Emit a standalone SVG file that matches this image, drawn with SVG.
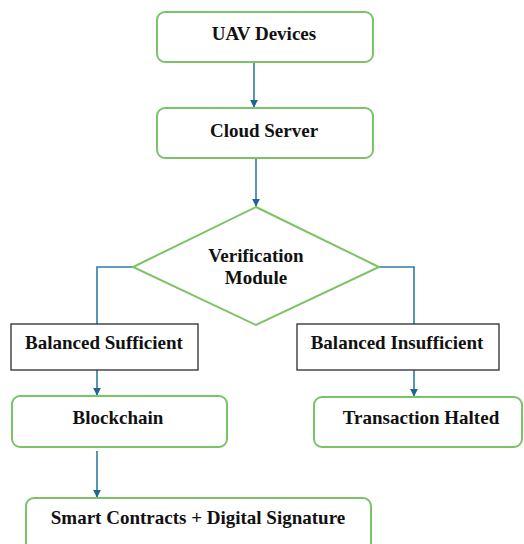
<svg xmlns="http://www.w3.org/2000/svg" width="524" height="544" viewBox="0 0 524 544">
  <style>
    .proc { fill: #ffffff; stroke: #7cc266; stroke-width: 2; }
    .cond { fill: #ffffff; stroke: #2b2b2b; stroke-width: 1.3; }
    .lbl { font-family: 'Liberation Serif', 'Times New Roman', serif; font-weight: 700; font-size: 19px; fill: #111; text-anchor: middle; }
    .wire { fill: none; stroke: #2e7ca6; stroke-width: 1.6; }
  </style>
  <defs>
    <marker id="arrow" viewBox="0 0 10 10" refX="9" refY="5" markerWidth="5" markerHeight="5" orient="auto">
      <path d="M0,0 L10,5 L0,10 Z" fill="#1f6690"/>
    </marker>
  </defs>
  <rect width="524" height="544" fill="#ffffff"/>

  <!-- flow connectors -->
  <g id="connectors">
    <line class="wire" x1="254" y1="62" x2="254" y2="107" marker-end="url(#arrow)"/>
    <line class="wire" x1="256" y1="158" x2="256" y2="206" marker-end="url(#arrow)"/>
    <polyline class="wire" points="133,267 97,267 97,324"/>
    <polyline class="wire" points="379,267 414,267 414,324"/>
    <line class="wire" x1="97" y1="370" x2="97" y2="395" marker-end="url(#arrow)"/>
    <line class="wire" x1="414" y1="370" x2="414" y2="396" marker-end="url(#arrow)"/>
    <line class="wire" x1="97" y1="451" x2="97" y2="497" marker-end="url(#arrow)"/>
  </g>

  <g id="uav-devices">
    <rect class="proc" x="157" y="12" width="216" height="50" rx="8"/>
    <text class="lbl" x="264" y="40">UAV Devices</text>
  </g>

  <g id="cloud-server">
    <rect class="proc" x="157" y="108" width="216" height="50" rx="8"/>
    <text class="lbl" x="264" y="137">Cloud Server</text>
  </g>

  <g id="verification-module">
    <polygon class="proc" points="256,207 379,267 256,325 133,267"/>
    <text class="lbl" x="256" y="262">Verification</text>
    <text class="lbl" x="256" y="284">Module</text>
  </g>

  <g id="balanced-sufficient">
    <rect class="cond" x="11" y="324" width="187" height="46"/>
    <text class="lbl" x="104" y="349">Balanced Sufficient</text>
  </g>

  <g id="balanced-insufficient">
    <rect class="cond" x="297" y="324" width="202" height="46"/>
    <text class="lbl" x="397" y="349">Balanced Insufficient</text>
  </g>

  <g id="blockchain">
    <rect class="proc" x="12" y="396" width="215" height="51" rx="8"/>
    <text class="lbl" x="118" y="424">Blockchain</text>
  </g>

  <g id="transaction-halted">
    <rect class="proc" x="314" y="397" width="208" height="50" rx="8"/>
    <text class="lbl" x="421" y="424">Transaction Halted</text>
  </g>

  <g id="smart-contracts">
    <rect class="proc" x="26" y="498" width="345" height="60" rx="8"/>
    <text class="lbl" x="198" y="524">Smart Contracts + Digital Signature</text>
  </g>
</svg>
